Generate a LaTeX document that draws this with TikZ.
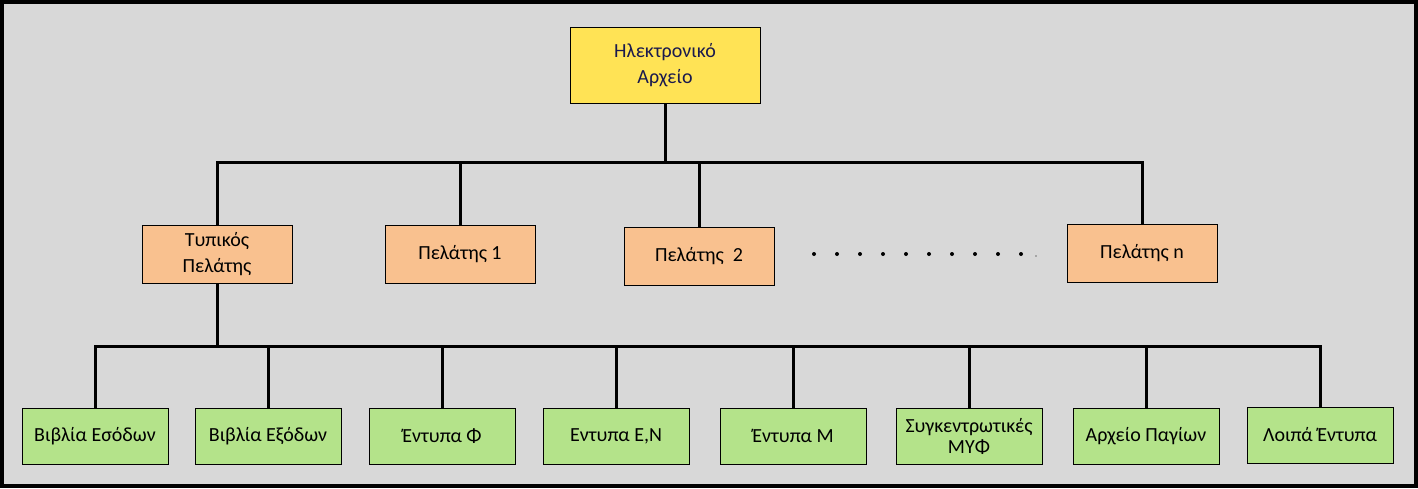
\documentclass[tikz,border=0pt]{standalone}
\usepackage{fontspec}
\setmainfont{Carlito}
\definecolor{bggrey}{HTML}{D8D8D8}
\definecolor{fileyellow}{HTML}{FFE355}
\definecolor{clientorange}{HTML}{F9C18F}
\definecolor{formgreen}{HTML}{B4E38A}
\definecolor{rootblue}{HTML}{1A1A4E}
\begin{document}
\begin{tikzpicture}[x=1pt,y=-1pt,
    box/.style={draw,line width=1pt,align=center,inner sep=0pt,font=\fontsize{20}{26}\selectfont},
    rootbox/.style={box,fill=fileyellow,minimum width=190pt,minimum height=76pt,text=rootblue},
    client/.style={box,fill=clientorange,minimum width=150pt,minimum height=58pt},
    form/.style={box,fill=formgreen,minimum width=146pt,minimum height=56pt},
    link/.style={line width=3pt}]
    \fill[bggrey] (0,0) rectangle (1418,488);
    \draw[line width=4pt] (2,2) rectangle (1416,486);
    % top level
    \node[rootbox] (root) at (665,65) {Ηλεκτρονικό\\Αρχείο};
    % clients
    \node[client] (tp) at (217,254) {Τυπικός\\Πελάτης};
    \node[client] (p1) at (460,254) {Πελάτης 1};
    \node[client] (p2) at (699,256) {Πελάτης~~2};
    \node[client] (pn) at (1142,253) {Πελάτης n};
    \foreach \i in {0,...,9}
        \fill (814+23*\i,254) circle [radius=2pt];
    \fill (1036,256) circle [radius=0.7pt];
    % forms of the client
    \node[form] (f1) at (95,436) {Βιβλία Εσόδων};
    \node[form] (f2) at (268,436) {Βιβλία Εξόδων};
    \node[form] (f3) at (442,436) {Έντυπα Φ};
    \node[form] (f4) at (616,436) {Εντυπα Ε,Ν};
    \node[form] (f5) at (793,436) {Έντυπα Μ};
    \node[form,font=\fontsize{20}{21}\selectfont] (f6) at (969,436) {Συγκεντρωτικές\\ΜΥΦ};
    \node[form] (f7) at (1146,436) {Αρχείο Παγίων};
    \node[form] (f8) at (1320,435) {Λοιπά Έντυπα};
    % connectors
    \coordinate (topbus) at (665,162);
    \coordinate (lowbus) at (217,346);
    \draw[link] (root.south) -- (topbus);
    \foreach \c in {tp,p1,p2,pn}
        \draw[link] (topbus) -| (\c.north);
    \draw[link] (tp.south) -- (lowbus);
    \foreach \c in {f1,f2,f3,f4,f5,f6,f7,f8}
        \draw[link] (lowbus) -| (\c.north);
\end{tikzpicture}
\end{document}
